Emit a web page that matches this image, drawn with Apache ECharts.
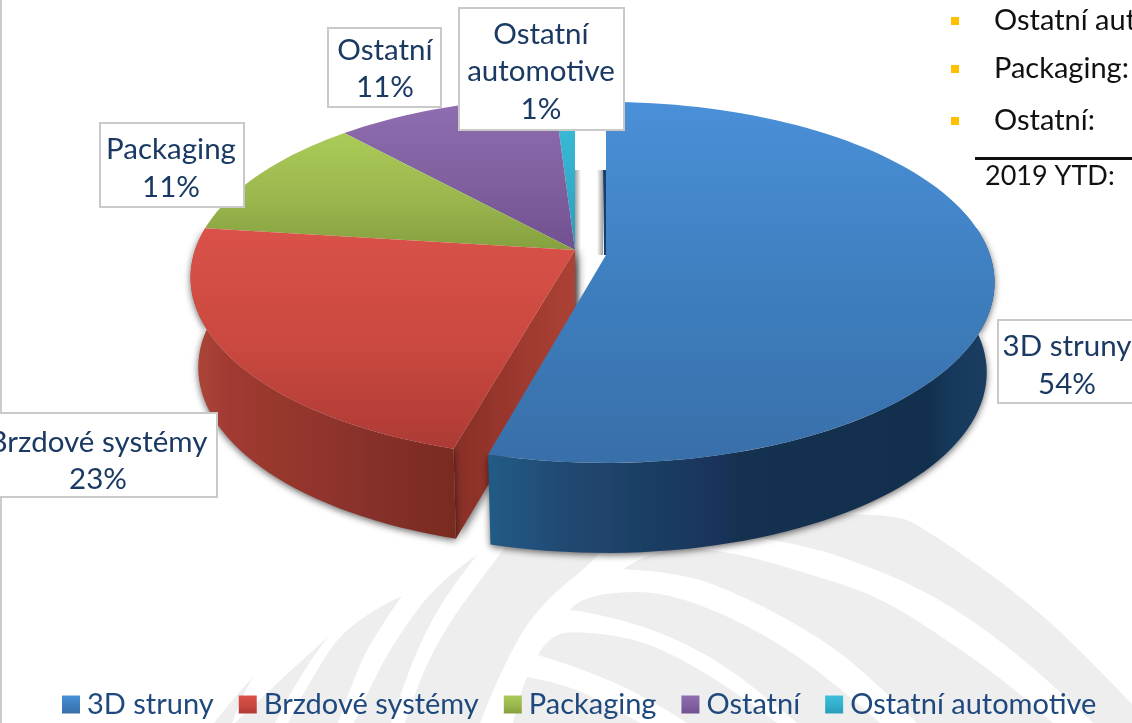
<!DOCTYPE html>
<html>
<head>
<meta charset="utf-8">
<title>Podíl segmentů</title>
<script src="https://cdn.jsdelivr.net/npm/echarts@6/dist/echarts.min.js"></script>
<style>
  html, body { margin: 0; padding: 0; background: #fff; overflow: hidden; }
  #main { width: 1132px; height: 723px; }
</style>
</head>
<body>
<div id="main"></div>
<script>
const categories = ['3D struny', 'Brzdové systémy', 'Packaging', 'Ostatní', 'Ostatní automotive']
const values = [54.4, 22.6, 11.2, 10.8, 1.0]
const labelNames = [['3D struny'], ['Brzdové systémy'], ['Packaging'], ['Ostatní'], ['Ostatní', 'automotive']]
const noteLines = ['Ostatní aut', 'Packaging:', 'Ostatní:']
const noteTotal = '2019 YTD:'

// projection of the tilted pie
const K = 0.152, RY = 176.3, DEPTH = 90, LOW = 0.98
const slices = [
  { cx: 606, cy: 255, rx: 384, trim: 0.65, top: ['#4a90d8', '#3d7dbd', '#396fa9'],
    side: [[0, '#205c86'], [0.09, '#22507c'], [0.14, '#204a72'], [0.24, '#21426b'], [0.29, '#1a4064'], [0.38, '#1a3a60'], [0.45, '#1b335c'], [0.5, '#14324f'], [0.87, '#122f4d'], [0.92, '#15395c'], [1, '#1c3d60']],
    sideX: [488, 992] },
  { cx: 575, cy: 250, rx: 380, trim: 0, top: ['#da5249', '#c9483f', '#ad3b35'],
    side: [[0, '#ac4638'], [0.12, '#a33a34'], [0.3, '#98382d'], [0.45, '#93352d'], [0.7, '#86302a'], [1, '#7a2b20']],
    sideX: [195, 452] },
  { cx: 575, cy: 250, rx: 380, trim: 0, top: ['#aacb58', '#9bb74e', '#85a03f'] },
  { cx: 575, cy: 250, rx: 380, trim: 0, top: ['#906eb2', '#80609f', '#705090'] },
  { cx: 575, cy: 250, rx: 380, trim: 0, top: ['#3dbfdb', '#32aecb', '#2a9cb8'] }
]

// label boxes: x0, y0, x1, y1, text centre x, first line y, line step
const labelBoxes = [
  [998, 320, 1150, 403, 1067, 346, 38],
  [-20, 413, 217, 497, 98, 442, 37],
  [100, 123, 244, 207, 171, 149, 38],
  [328, 28, 441, 107, 385, 50, 37],
  [459, 8, 624, 130, 541, 34, 37.5]
]

const total = values.reduce((a, b) => a + b, 0)
const starts = []
values.reduce((sum, v, i) => { starts[i] = sum / total * 360; return sum + v }, 0)

function rim(s, deg, low) {
  const t = deg * Math.PI / 180
  const w = 1 + K * Math.cos(t)
  const sc = low ? LOW : 1
  return [
    s.cx + s.rx * sc * Math.sin(t) / w,
    s.cy + (low ? DEPTH : 0) - RY * Math.cos(t) / w
  ]
}

function arc(s, from, to, low) {
  const pts = []
  const n = Math.max(2, Math.ceil(Math.abs(to - from) / 2))
  for (let i = 0; i <= n; i++) pts.push(rim(s, from + (to - from) * i / n, low))
  return pts
}

function vertical(stops) {
  return new echarts.graphic.LinearGradient(0, 0, 0, 1, [
    { offset: 0, color: stops[0] }, { offset: 0.55, color: stops[1] }, { offset: 1, color: stops[2] }
  ])
}

function gapShadow(x, width, bottom, darkRight) {
  return {
    type: 'rect', shape: { x, y: 170, width, height: bottom - 170 },
    style: {
      fill: new echarts.graphic.LinearGradient(0, 0, 1, 0, [
        { offset: 0, color: darkRight ? '#ffffff' : '#a0a0a0' },
        { offset: 1, color: darkRight ? '#a0a0a0' : '#ffffff' }
      ])
    }
  }
}

function renderSlice(i) {
  const s = slices[i]
  const from = starts[i]
  const to = from + values[i] / total * 360 - s.trim
  const children = []
  const sFrom = Math.max(from, 81), sTo = Math.min(to, 279)
  const apex = [s.cx, s.cy]
  const apexLow = [s.cx, s.cy + DEPTH]

  if (i === 4) children.push(gapShadow(575, 6, 320, false))
  if (i === 1) {
    // cut wall of the red slice, turned to the viewer
    const a = rim(s, from), b = rim(s, from, true)
    children.push({
      type: 'polygon', shape: { points: [apex, a, b, apexLow] },
      style: {
        fill: new echarts.graphic.LinearGradient(0, 0, 1, 0, [
          { offset: 0, color: '#862f26' }, { offset: 0.4, color: '#98362c' }, { offset: 1, color: '#ac4235' }
        ]),
        shadowBlur: 9, shadowColor: 'rgba(0,0,0,0.6)', shadowOffsetX: 3
      }
    })
  }
  if (i === 0) {
    // narrow back wall next to the gap
    children.push(gapShadow(s.cx - 9, 6, s.cy, true))
    children.push({
      type: 'polygon',
      shape: { points: [[s.cx - 3, 170], [s.cx, 170], [s.cx, s.cy], [s.cx - 2, s.cy]] },
      style: { fill: '#173f68' }
    })
  }
  if (s.side && sTo > sFrom) {
    const points = arc(s, sFrom, sTo).concat(arc(s, sTo, sFrom, true))
    children.push({
      type: 'polygon', shape: { points },
      style: {
        fill: {
          type: 'linear', x: s.sideX[0], y: 0, x2: s.sideX[1], y2: 0, global: true,
          colorStops: s.side.map(c => ({ offset: c[0], color: c[1] }))
        },
        shadowBlur: 7, shadowColor: 'rgba(0,0,0,0.6)', shadowOffsetY: 2
      }
    })
  }
  children.push({
    type: 'polygon',
    shape: { points: [apex].concat(arc(s, from, to)) },
    style: { fill: vertical(s.top) }
  })
  return { type: 'group', children }
}

function renderLabel(params) {
  const i = params.dataIndex
  const b = labelBoxes[i]
  const lines = labelNames[i].concat(Math.round(values[i] / total * 100) + '%')
  const children = [{
    type: 'rect', shape: { x: b[0], y: b[1], width: b[2] - b[0], height: b[3] - b[1] },
    style: { fill: '#fff', stroke: '#c9c9c9', lineWidth: 2 }
  }]
  lines.forEach((t, k) => children.push({
    type: 'text',
    style: {
      text: t, x: b[4], y: b[5] + k * b[6], align: 'center', verticalAlign: 'middle',
      fill: '#1b3a63', font: '400 29.5px Lato'
    }
  }))
  return { type: 'group', children }
}

// pale yarn watermark behind the pie
const bands = [
  [[[253, 677], [236, 695], [214, 723]], [[253, 677], [240, 700], [232, 723]]],
  [[[328, 637], [283, 677], [235, 723]], [[328, 637], [300, 673], [275, 723]]],
  [[[402, 596], [350, 620], [310, 680], [288, 723]], [[402, 596], [373, 637], [353, 680], [338, 723]]],
  [[[477, 555], [440, 580], [397, 637], [370, 687], [354, 723]], [[477, 555], [447, 593], [420, 643], [403, 687], [391, 723]]],
  [[[507, 545], [467, 597], [437, 643], [417, 687], [405, 723]], [[620, 530], [590, 565], [557, 590], [527, 623], [507, 660], [490, 697], [480, 723]]],
  [[[700, 530], [880, 503], [947, 543], [1030, 603], [1097, 667], [1150, 723]], [[700, 530], [790, 540], [880, 570], [947, 603], [1013, 650], [1080, 710], [1093, 723]]],
  [[[623, 569], [660, 545], [733, 552], [807, 573], [880, 597], [947, 640], [1013, 687], [1053, 723]], [[623, 569], [673, 572], [723, 587], [790, 620], [857, 663], [917, 723]]],
  [[[570, 610], [580, 597], [640, 590], [690, 600], [757, 630], [823, 673], [880, 723]], [[570, 610], [590, 612], [657, 630], [723, 663], [790, 717], [797, 723]]],
  [[[538, 655], [550, 633], [590, 632], [640, 640], [690, 663], [757, 707], [777, 723]], [[538, 655], [590, 671], [657, 703], [687, 723]]],
  [[[527, 677], [560, 683], [600, 700], [640, 723]], [[527, 677], [518, 700], [513, 723]]]
]

// rounded edge through the control points, corner points stay sharp
function edge(pts) {
  const out = [pts[0]]
  let start = pts[0]
  for (let i = 1; i < pts.length - 1; i++) {
    const end = i === pts.length - 2 ? pts[i + 1] : [(pts[i][0] + pts[i + 1][0]) / 2, (pts[i][1] + pts[i + 1][1]) / 2]
    for (let t = 0.1; t <= 1.001; t += 0.1) {
      const a = (1 - t) * (1 - t), b = 2 * t * (1 - t), c = t * t
      out.push([a * start[0] + b * pts[i][0] + c * end[0], a * start[1] + b * pts[i][1] + c * end[1]])
    }
    start = end
  }
  return out
}

const decor = bands.map(b => ({
  type: 'polygon', silent: true,
  shape: { points: edge(b[0]).concat(edge(b[1]).reverse()) },
  style: { fill: '#eeeeee' }
}))

// frame of the slide on the left
decor.push({ type: 'line', shape: { x1: 1, y1: 0, x2: 1, y2: 723 }, style: { stroke: '#cccccc', lineWidth: 2 } })

// side text of the slide, top right
const noteY = [20, 68, 120]
noteLines.forEach((t, i) => {
  decor.push({ type: 'rect', shape: { x: 951, y: noteY[i] - 3, width: 8, height: 8 }, style: { fill: '#ffc000' } })
  decor.push({ type: 'text', style: { text: t, x: 994, y: noteY[i] + 1, verticalAlign: 'middle', fill: '#111', font: '400 29px Lato' } })
})
decor.push({ type: 'rect', shape: { x: 975, y: 157, width: 157, height: 3 }, style: { fill: '#111' } })
decor.push({ type: 'text', style: { text: noteTotal, x: 985, y: 176, verticalAlign: 'middle', fill: '#111', font: '400 27px Lato' } })

const chart = echarts.init(document.getElementById('main'))
const series = [4, 3, 2, 1, 0].map(i => ({
  type: 'custom',
  name: categories[i],
  coordinateSystem: 'none',
  silent: true,
  itemStyle: { color: vertical(slices[i].top) },
  data: [values[i]],
  renderItem: () => renderSlice(i)
}))
series.push({
  type: 'custom',
  name: 'popisky',
  coordinateSystem: 'none',
  silent: true,
  z: 5,
  data: values,
  renderItem: renderLabel
})

chart.setOption({
  animation: false,
  backgroundColor: '#fff',
  graphic: { elements: decor },
  legend: {
    data: categories,
    left: 62,
    top: 690,
    padding: 0,
    icon: 'rect',
    itemWidth: 18,
    itemHeight: 18,
    itemGap: 25,
    selectedMode: false,
    textStyle: { color: '#1f497d', fontFamily: 'Lato', fontSize: 29, padding: [3, 0, 0, 2] }
  },
  series
})
</script>
</body>
</html>
